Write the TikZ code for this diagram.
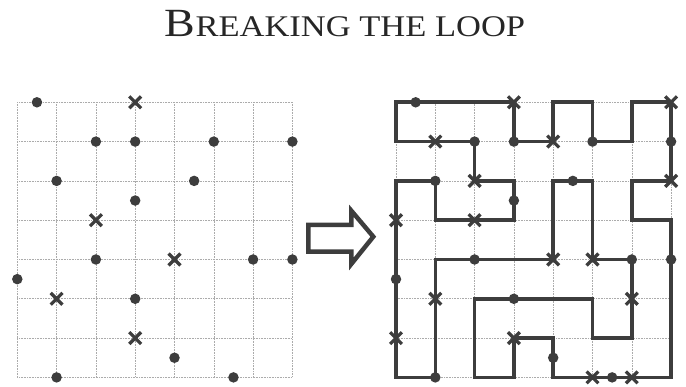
\documentclass[tikz,border=0pt]{standalone}
\usepackage{fontspec}
\setmainfont{Liberation Serif}
\newfontfamily\titlefont[FakeStretch=1.15]{Liberation Serif}
\usetikzlibrary{shapes.misc}
\definecolor{ink}{HTML}{3D3D3D}
\definecolor{gridgray}{HTML}{ABABAB}
\def\cell{39.3pt}
\def\gridY{284.7pt}
\def\leftX{17.3pt}
\def\rightX{396pt}

\begin{document}
\begin{tikzpicture}[
    x=1pt, y=1pt,
    gridline/.style={
      gridgray, densely dotted, line width=0.6pt
    },
    dot/.style={
      circle, fill=ink, inner sep=0pt, minimum size=10.5pt
    },
    cross/.style={
      cross out, draw=ink, line width=3.3pt, inner sep=0pt, minimum size=8.5pt
    },
    loopline/.style={
      draw=ink, line width=3.6pt, line join=miter
    },
    hollow/.style={
      draw=ink, line width=4.5pt, line join=miter
    }
  ]
    \useasboundingbox (0,0) rectangle (686,387);

    \node (Title) at (345,350) [anchor=base, text=black!85]
      {\titlefont\fontsize{40}{40}\selectfont B\fontsize{30}{30}\selectfont REAKING THE LOOP};

    \begin{scope}[shift={(\leftX,\gridY)}, x=\cell, y=-\cell]
      \foreach \i in {0,...,7} {
        \draw[gridline] (\i,0) -- (\i,7);
        \draw[gridline] (0,\i) -- (7,\i);
      }
      \foreach \c/\r [count=\n] in {0.5/0, 2/1, 3/1, 5/1, 7/1, 1/2, 4.5/2, 3/2.5,
                                    2/4, 6/4, 7/4, 0/4.5, 3/5, 4/6.5, 1/7, 5.5/7}
        \node[dot] (LDot\n) at (\c,\r) {};
      \foreach \c/\r [count=\n] in {3/0, 2/3, 4/4, 1/5, 3/6}
        \node[cross] (LCross\n) at (\c,\r) {};
    \end{scope}

    \draw[hollow] (308.3,162) -- (351.3,162) -- (351.3,176.3) -- (373.3,150.3)
      -- (351.3,123) -- (351.3,135.3) -- (308.3,135.3) -- cycle;

    \begin{scope}[shift={(\rightX,\gridY)}, x=\cell, y=-\cell]
      \foreach \i in {0,...,7} {
        \draw[gridline] (\i,0) -- (\i,7);
        \draw[gridline] (0,\i) -- (7,\i);
      }
      \draw[loopline] (0,0) -- (3,0) -- (3,1) -- (4,1) -- (4,0) -- (5,0) -- (5,1)
        -- (6,1) -- (6,0) -- (7,0) -- (7,2) -- (6,2) -- (6,3) -- (7,3) -- (7,7)
        -- (4,7) -- (4,6) -- (3,6) -- (3,7) -- (2,7) -- (2,5) -- (5,5) -- (5,6)
        -- (6,6) -- (6,4) -- (5,4) -- (5,2) -- (4,2) -- (4,4) -- (1,4) -- (1,7)
        -- (0,7) -- (0,2) -- (1,2) -- (1,3) -- (3,3) -- (3,2) -- (2,2) -- (2,1)
        -- (0,1) -- cycle;
      \foreach \c/\r [count=\n] in {0.5/0, 2/1, 3/1, 5/1, 7/1, 1/2, 4.5/2, 3/2.5,
                                    2/4, 6/4, 7/4, 0/4.5, 3/5, 4/6.5, 1/7, 5.5/7}
        \node[dot] (RDot\n) at (\c,\r) {};
      \foreach \c/\r [count=\n] in {3/0, 7/0, 1/1, 4/1, 2/2, 7/2, 0/3, 2/3,
                                    4/4, 5/4, 1/5, 6/5, 0/6, 3/6, 5/7, 6/7}
        \node[cross] (RCross\n) at (\c,\r) {};
    \end{scope}
  \end{tikzpicture}
\end{document}
